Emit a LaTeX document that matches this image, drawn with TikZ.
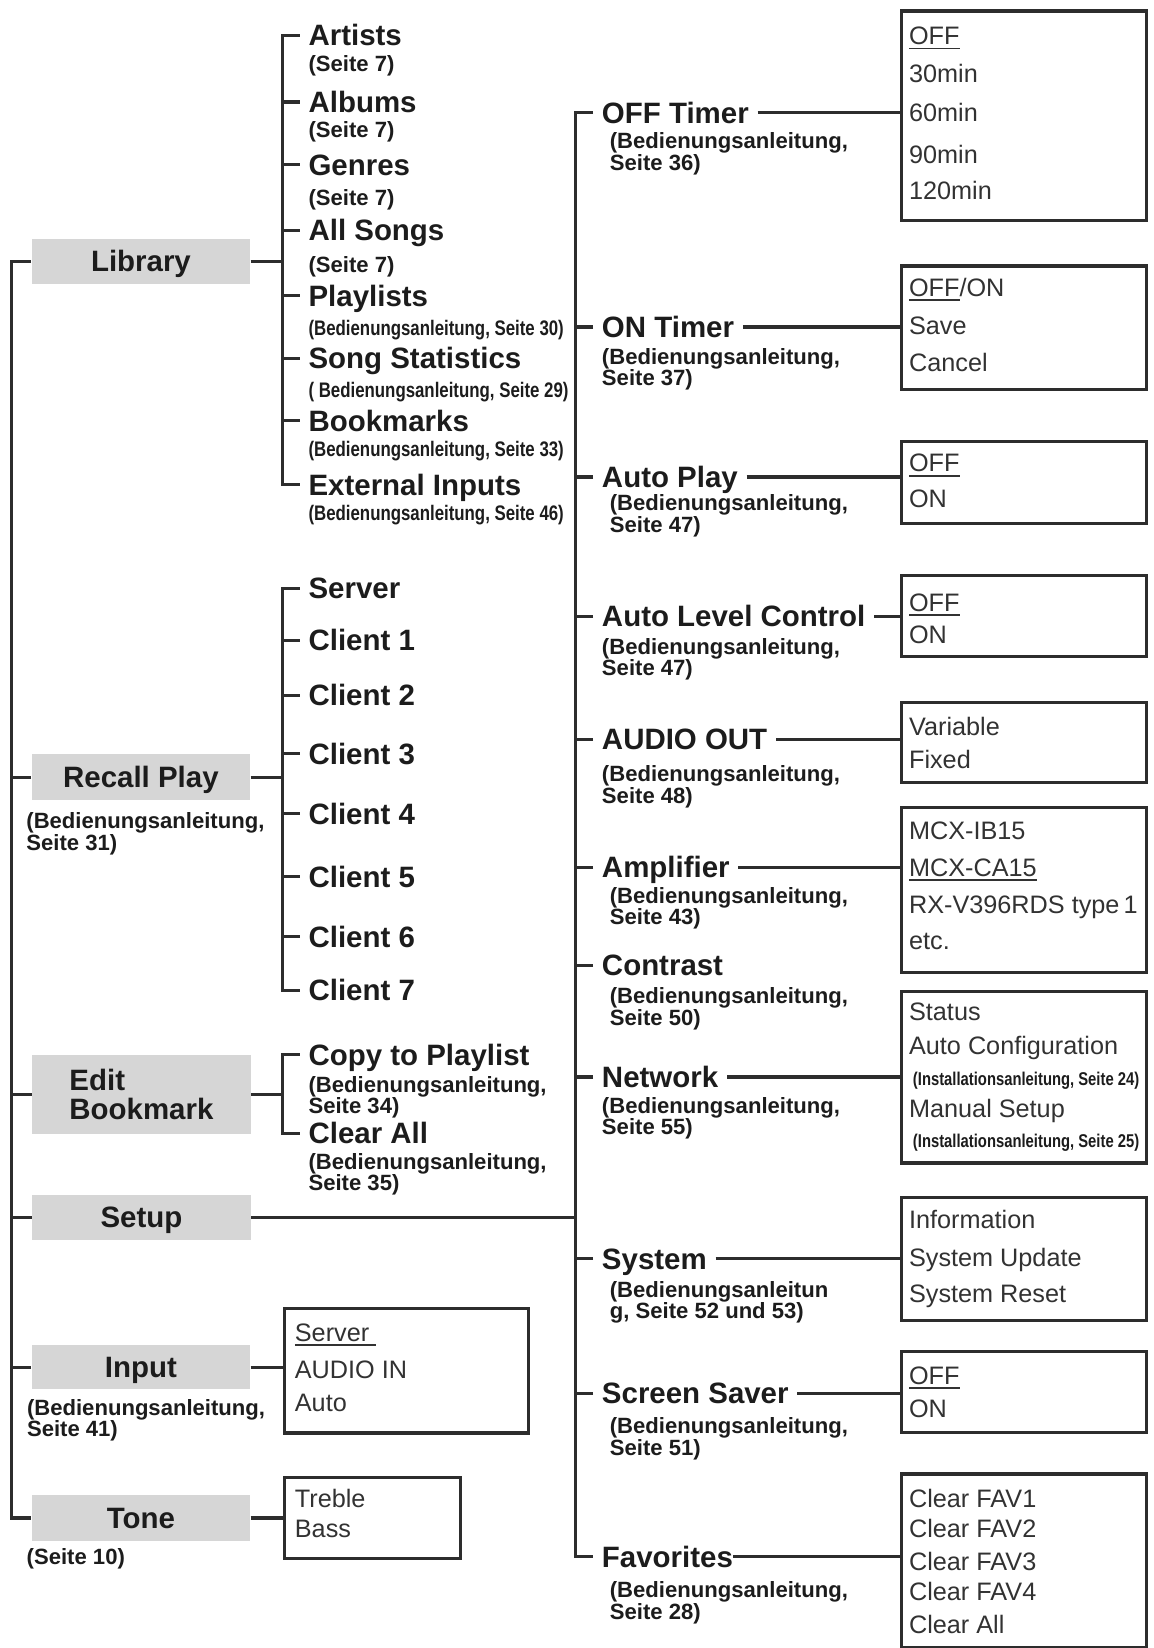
\documentclass[tikz,border=0pt]{standalone}
\usepackage{fontspec}
\setmainfont{Liberation Sans}
\newfontfamily\narrowfont[FakeStretch=0.8]{Liberation Sans}
\usepackage{tikz}
\usepackage{xcolor}
\definecolor{menugray}{RGB}{214,214,214}
\definecolor{linegray}{RGB}{45,45,45}
\definecolor{inkblack}{RGB}{28,28,28}
\definecolor{boxtext}{RGB}{50,50,50}
\newsavebox{\ulbox}
\newcommand{\uln}[1]{\sbox{\ulbox}{#1}\rlap{\rule[-2.2pt]{\wd\ulbox}{0.9pt}}\usebox{\ulbox}}
\tikzstyle{wire} = [line width=1.5pt, color=linegray]
\tikzstyle{menubase} = [rectangle, fill=menugray, minimum width=104pt, minimum height=21.5pt, inner sep=0pt, text=inkblack, font=\fontsize{14}{14}\selectfont\bfseries]
\tikzstyle{menu} = [menubase, text height=10pt, text depth=0pt]
\tikzstyle{entry} = [anchor=west, inner xsep=4pt, inner ysep=0pt, text height=10pt, text depth=0pt, text=inkblack, font=\fontsize{14}{14}\selectfont\bfseries]
\tikzstyle{hint} = [anchor=base west, inner sep=0pt, align=left, text=inkblack, font=\fontsize{10.5}{10.25}\selectfont\bfseries]
\tikzstyle{hintnarrow} = [hint, font=\narrowfont\fontsize{10}{10}\selectfont\bfseries]
\tikzstyle{optbox} = [rectangle, draw=linegray, line width=1.5pt, anchor=north west, inner sep=0pt, minimum width=116.5pt]
\tikzstyle{opt} = [anchor=base west, inner sep=0pt, text=boxtext, font=\fontsize{12}{12}\selectfont]
\begin{document}
\begin{tikzpicture}[x=0.5pt, y=-0.5pt]
\useasboundingbox (0,0) rectangle (1097,1567);
\coordinate (ltrunk) at (11,0);
\coordinate (lbar) at (269,0);
\coordinate (rtrunk) at (547,0);

% Main menu
\node[menu] (lib) at (134,248.5) {Library};
\node[menu, minimum height=22pt] (recall) at (134,739) {Recall Play};
\node[menubase, align=left, minimum height=38pt] (editbm) at (134.5,1040.7) {Edit\\Bookmark};
\node[menu] (setup) at (134.5,1157.5) {Setup};
\node[menu, minimum height=21pt] (inp) at (134,1300) {Input};
\node[menu] (tone) at (134,1443.4) {Tone};
% (base = last line)
\node[hint] (recall-ref) at (24.7,808.4) {(Bedienungsanleitung,\\Seite 31)};
\node[hint] (inp-ref) at (25.3,1366.3) {(Bedienungsanleitung,\\Seite 41)};
\node[hint] (tone-ref) at (25,1487.4) {(Seite 10)};

% Library
\foreach \n/\t/\y in {artists/Artists/33.4, albums/Albums/97, genres/Genres/156.5, allsongs/All Songs/219, playlists/Playlists/281, songstat/Song Statistics/340.6, bookmarks/Bookmarks/400, extin/External Inputs/461}
  \node[entry] (\n) at (285,\y) {\t};
\foreach \n/\y in {artists/67.8, albums/131, genres/195.5, allsongs/258.7}
  \node[hint] (\n-ref) at (293,\y) {(Seite 7)};
\node[hintnarrow] (playlists-ref) at (293,319) {(Bedienungsanleitung, Seite 30)};
\node[hintnarrow] (songstat-ref) at (293,378) {( Bedienungsanleitung, Seite 29)};
\node[hintnarrow] (bookmarks-ref) at (293,434) {(Bedienungsanleitung, Seite 33)};
\node[hintnarrow] (extin-ref) at (293,494.5) {(Bedienungsanleitung, Seite 46)};

% Recall Play
\foreach \n/\t/\y in {server/Server/559.5, client1/Client 1/608.7, client2/Client 2/661, client3/Client 3/716.5, client4/Client 4/773.5, client5/Client 5/833.8, client6/Client 6/890.8, client7/Client 7/941.5}
  \node[entry] (\n) at (285,\y) {\t};

% Edit Bookmark
\node[entry] (copypl) at (285,1002.7) {Copy to Playlist};
\node[hint] (copypl-ref) at (293,1059) {(Bedienungsanleitung,\\Seite 34)};
\node[entry] (clearall) at (285,1077.7) {Clear All};
\node[hint] (clearall-ref) at (293,1132.4) {(Bedienungsanleitung,\\Seite 35)};

% Setup
\foreach \n/\t/\y in {offt/OFF Timer/107, ont/ON Timer/311, autop/Auto Play/453.6, alc/Auto Level Control/586, aout/AUDIO OUT/703, amp/Amplifier/824.6, contr/Contrast/918, netw/Network/1024, syst/System/1197, scrs/Screen Saver/1324.7, fav/Favorites/1480}
  \node[entry] (\n) at (564,\y) {\t};
\node[hint] (offt-ref) at (579.5,162) {(Bedienungsanleitung,\\Seite 36)};
\node[hint] (ont-ref) at (572,366.8) {(Bedienungsanleitung,\\Seite 37)};
\node[hint] (autop-ref) at (579.5,506) {(Bedienungsanleitung,\\Seite 47)};
\node[hint] (alc-ref) at (572,642.7) {(Bedienungsanleitung,\\Seite 47)};
\node[hint] (aout-ref) at (572,764) {(Bedienungsanleitung,\\Seite 48)};
\node[hint] (amp-ref) at (579.5,879.2) {(Bedienungsanleitung,\\Seite 43)};
\node[hint] (contr-ref) at (579.5,975) {(Bedienungsanleitung,\\Seite 50)};
\node[hint] (netw-ref) at (572,1079) {(Bedienungsanleitung,\\Seite 55)};
\node[hint] (syst-ref) at (579.5,1253.9) {(Bedienungsanleitun\\g, Seite 52 und 53)};
\node[hint] (scrs-ref) at (579.5,1383.5) {(Bedienungsanleitung,\\Seite 51)};
\node[hint] (fav-ref) at (579.5,1539.7) {(Bedienungsanleitung,\\Seite 28)};

% Option boxes
\node[optbox, minimum height=99.5pt] (offbox) at (856,9) {};
\node[optbox, minimum height=58.5pt] (onbox) at (856,251.5) {};
\node[optbox, minimum height=38.75pt] (apbox) at (856,418.5) {};
\node[optbox, minimum height=38.5pt] (alcbox) at (856,545.5) {};
\node[optbox, minimum height=38.25pt] (aobox) at (856,666.3) {};
\node[optbox, minimum height=78.3pt] (ampbox) at (856,766.4) {};
\node[optbox, minimum height=81.65pt] (netbox) at (856,941) {};
\node[optbox, minimum height=58.2pt] (sysbox) at (856,1137.5) {};
\node[optbox, minimum height=38.2pt] (ssbox) at (856,1283.8) {};
\node[optbox, minimum height=82.35pt] (favbox) at (856,1400) {};
\node[optbox, minimum width=116pt, minimum height=59.2pt] (inbox) at (269,1242.6) {};
\node[optbox, minimum width=83.5pt, minimum height=38.5pt] (tonebox) at (269,1403) {};

\foreach \t/\y [count=\i] in {\uln{OFF}/42.6, 30min/78.6, 60min/116, 90min/155.6, 120min/190}
  \node[opt] (offbox-\i) at (864,\y) {\t};
\foreach \t/\y [count=\i] in {{\uln{OFF}/ON}/282, Save/317.7, Cancel/353}
  \node[opt] (onbox-\i) at (864,\y) {\t};
\foreach \t/\y [count=\i] in {\uln{OFF}/448.7, ON/483}
  \node[opt] (apbox-\i) at (864,\y) {\t};
\foreach \t/\y [count=\i] in {\uln{OFF}/581, ON/611.7}
  \node[opt] (alcbox-\i) at (864,\y) {\t};
\foreach \t/\y [count=\i] in {Variable/699, Fixed/731}
  \node[opt] (aobox-\i) at (864,\y) {\t};
\foreach \t/\y [count=\i] in {MCX-IB15/798, \uln{MCX-CA15}/833, RX-V396RDS type\,1/868.3, etc./903}
  \node[opt] (ampbox-\i) at (864,\y) {\t};
\node[opt] (netbox-1) at (864,970) {Status};
\node[opt] (netbox-2) at (864,1003) {Auto Configuration};
\node[opt, text=inkblack, font=\narrowfont\fontsize{8.8}{8.8}\selectfont\bfseries] (netbox-3) at (867.7,1032) {(Installationsanleitung, Seite 24)};
\node[opt] (netbox-4) at (864,1062.7) {Manual Setup};
\node[opt, text=inkblack, font=\narrowfont\fontsize{8.8}{8.8}\selectfont\bfseries] (netbox-5) at (867.7,1091) {(Installationsanleitung, Seite 25)};
\foreach \t/\y [count=\i] in {Information/1168.4, System Update/1204, System Reset/1238.9}
  \node[opt] (sysbox-\i) at (864,\y) {\t};
\foreach \t/\y [count=\i] in {\uln{OFF}/1316, ON/1348}
  \node[opt] (ssbox-\i) at (864,\y) {\t};
\foreach \t/\y [count=\i] in {Clear FAV1/1433.4, Clear FAV2/1461.6, Clear FAV3/1493, Clear FAV4/1522, Clear All/1553}
  \node[opt] (favbox-\i) at (864,\y) {\t};
\foreach \t/\y [count=\i] in {\uln{Server\ }/1275.6, AUDIO IN/1311, Auto/1342.3}
  \node[opt] (inbox-\i) at (280,\y) {\t};
\foreach \t/\y [count=\i] in {Treble/1433, Bass/1462.2}
  \node[opt] (tonebox-\i) at (280,\y) {\t};

% Connections
\draw[wire] (lib.west) -| (ltrunk |- tone.west) -- (tone.west);
\foreach \n in {recall,editbm,setup,inp}
  \draw[wire] (\n.west) -- (\n.west -| ltrunk);
\draw[wire] (lib.east) -- (lib.east -| lbar);
\draw[wire] (artists.west) -| (lbar |- extin.west) -- (extin.west);
\foreach \n in {albums,genres,allsongs,playlists,songstat,bookmarks}
  \draw[wire] (\n.west) -- (\n.west -| lbar);
\draw[wire] (recall.east) -- (recall.east -| lbar);
\draw[wire] (server.west) -| (lbar |- client7.west) -- (client7.west);
\foreach \n in {client1,client2,client3,client4,client5,client6}
  \draw[wire] (\n.west) -- (\n.west -| lbar);
\draw[wire] (editbm.east) -- (editbm.east -| lbar);
\draw[wire] (copypl.west) -| (lbar |- clearall.west) -- (clearall.west);
\draw[wire] (setup.east) -- (setup.east -| rtrunk);
\draw[wire] (offt.west) -| (rtrunk |- fav.west) -- (fav.west);
\foreach \n in {ont,autop,alc,aout,amp,contr,netw,syst,scrs}
  \draw[wire] (\n.west) -- (\n.west -| rtrunk);
\foreach \h/\b in {offt/offbox, ont/onbox, autop/apbox, alc/alcbox, aout/aobox, amp/ampbox, netw/netbox, syst/sysbox, scrs/ssbox}
  \draw[wire] (\h.east) -- (\h.east -| \b.west);
\draw[wire, shorten <=-4pt] (fav.east) -- (fav.east -| favbox.west);
\draw[wire] (inp.east) -- (inp.east -| inbox.west);
\draw[wire] (tone.east) -- (tone.east -| tonebox.west);
\end{tikzpicture}
\end{document}
